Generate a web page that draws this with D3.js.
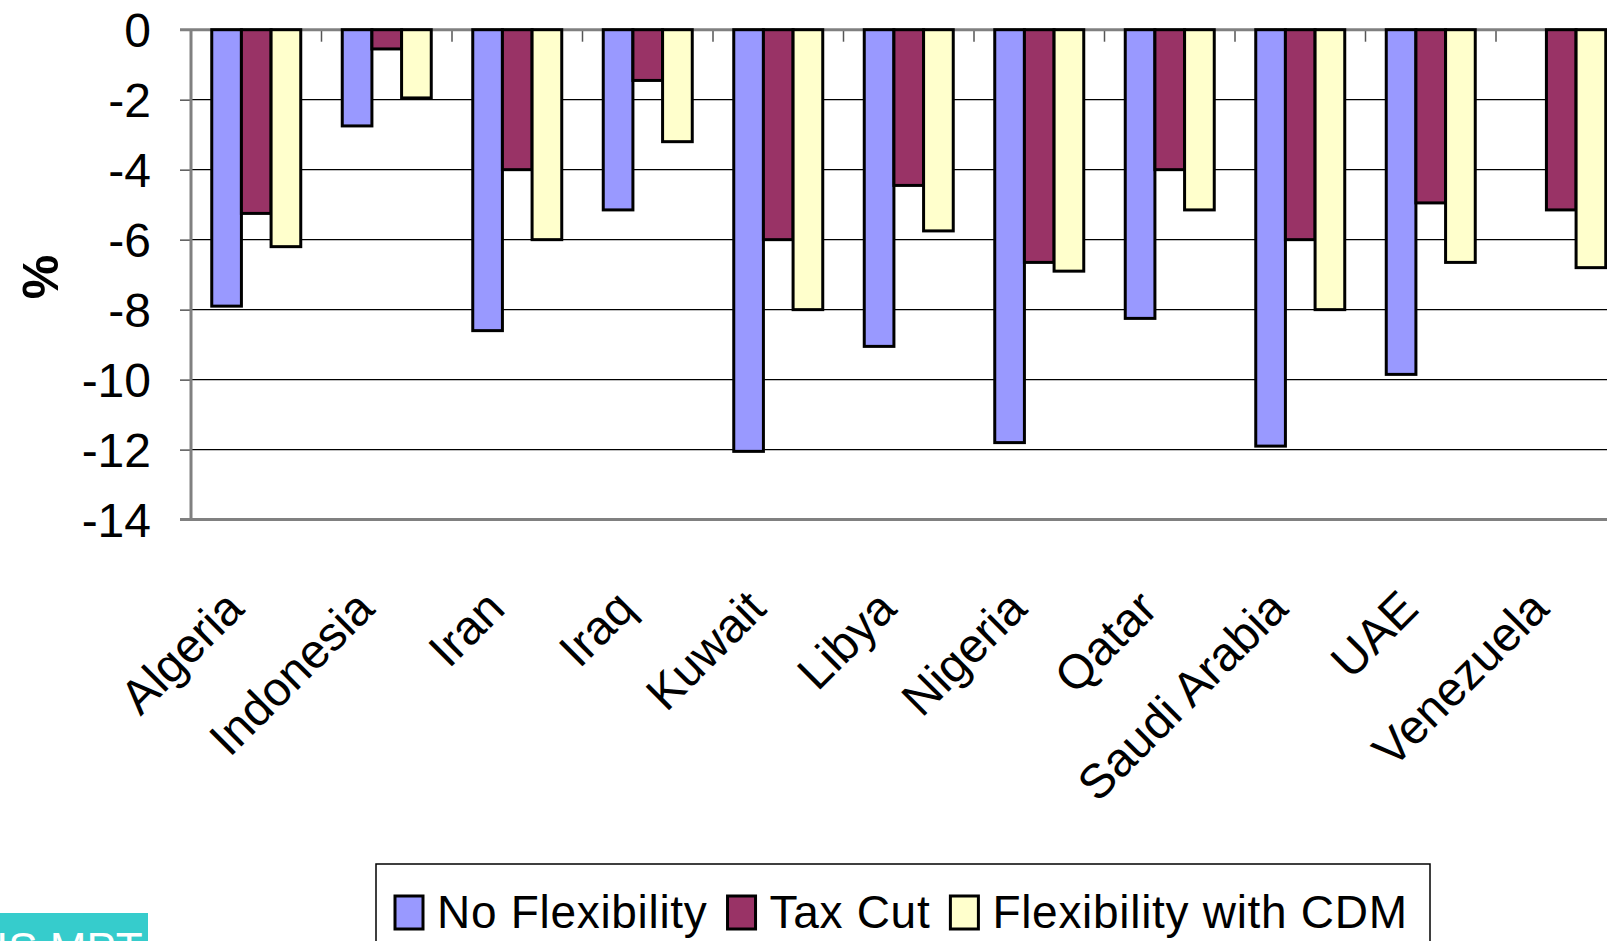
<!DOCTYPE html>
<html>
<head>
<meta charset="utf-8">
<script src="https://cdn.jsdelivr.net/npm/d3@7"></script>
<style>
  html, body { margin: 0; padding: 0; background: #fff; overflow: hidden; }
  svg { display: block; }
  text { font-family: "Liberation Sans", Arial, sans-serif; }
</style>
</head>
<body>
<svg id="chart" width="1607" height="941"></svg>
<script>
// ---- data ----
const categories = ["Algeria", "Indonesia", "Iran", "Iraq", "Kuwait", "Libya", "Nigeria", "Qatar", "Saudi Arabia", "UAE", "Venezuela"];
const seriesNames = ["No Flexibility", "Tax Cut", "Flexibility with CDM"];
const noFlexibility = [-7.9, -2.75, -8.6, -5.15, -12.05, -9.05, -11.8, -8.25, -11.9, -9.85, null];
const taxCut = [-5.25, -0.55, -4.0, -1.45, -6.0, -4.45, -6.65, -4.0, -6.0, -4.95, -5.15];
const flexibilityWithCDM = [-6.2, -1.95, -6.0, -3.2, -8.0, -5.75, -6.9, -5.15, -8.0, -6.65, -6.8];
const yTicks = [0, -2, -4, -6, -8, -10, -12, -14];
const yTitle = "%";
const badgeText = "IS MPT";

const seriesValues = [noFlexibility, taxCut, flexibilityWithCDM];
const colors = ["#9999FF", "#993366", "#FFFFCC"];

// ---- layout ----
const svg = d3.select("#chart");
const plotLeft = 191, catWidth = 130.5;
const plotTop = 29.7, plotBottom = 519.6;

const x0 = d3.scaleBand().domain(categories)
  .range([plotLeft, plotLeft + catWidth * categories.length]).padding(0);
const x1 = d3.scaleBand().domain(seriesNames)
  .range([20.75, catWidth - 20.75]).padding(0);
const y = d3.scaleLinear().domain([0, -14]).range([plotTop, plotBottom]);

svg.append("rect").attr("width", 1607).attr("height", 941).attr("fill", "#fff");

// gridlines
svg.append("g").selectAll("line")
  .data(yTicks.filter(d => d !== 0 && d !== -14))
  .join("line")
  .attr("x1", plotLeft).attr("x2", 1607)
  .attr("y1", d => y(d)).attr("y2", d => y(d))
  .attr("stroke", "#000").attr("stroke-width", 1.2);

// y axis (ticks + labels)
const yAxis = d3.axisLeft(y).tickValues(yTicks).tickSize(11).tickPadding(29)
  .tickFormat(d => d === 0 ? "0" : "-" + Math.abs(d));
const yg = svg.append("g").attr("transform", `translate(${plotLeft},0)`).call(yAxis);
yg.select(".domain").remove();
yg.selectAll(".tick line").attr("stroke", "#555").attr("stroke-width", 1.5);
yg.selectAll(".tick text")
  .attr("font-size", 48).attr("fill", "#000")
  .attr("font-family", "Liberation Sans, Arial, sans-serif")
  .attr("dy", "0.36em");

// bottom axis line
svg.append("line").attr("x1", plotLeft - 11).attr("x2", 1607)
  .attr("y1", plotBottom).attr("y2", plotBottom)
  .attr("stroke", "#808080").attr("stroke-width", 3);

// category tick marks at the zero line, pointing down
const catBoundaries = categories.map(c => x0(c) + catWidth);
svg.append("g").selectAll("line").data(catBoundaries).join("line")
  .attr("x1", d => d).attr("x2", d => d)
  .attr("y1", plotTop).attr("y2", plotTop + 12)
  .attr("stroke", "#555").attr("stroke-width", 1.5);
svg.append("line").attr("x1", plotLeft - 11).attr("x2", 1607)
  .attr("y1", plotTop).attr("y2", plotTop)
  .attr("stroke", "#808080").attr("stroke-width", 3);

// y axis line
svg.append("line").attr("x1", plotLeft).attr("x2", plotLeft)
  .attr("y1", plotTop).attr("y2", plotBottom)
  .attr("stroke", "#808080").attr("stroke-width", 3);

// bars
const barData = [];
categories.forEach((c, i) => {
  seriesNames.forEach((s, j) => {
    const v = seriesValues[j][i];
    if (v !== null && v !== undefined) barData.push({ c, s, v, j });
  });
});
svg.append("g").selectAll("rect").data(barData).join("rect")
  .attr("x", d => x0(d.c) + x1(d.s))
  .attr("y", y(0))
  .attr("width", x1.bandwidth())
  .attr("height", d => y(d.v) - y(0))
  .attr("fill", d => colors[d.j])
  .attr("stroke", "#000").attr("stroke-width", 3);

// category labels, rotated
svg.append("g").selectAll("text").data(categories).join("text")
  .attr("transform", d => `translate(${x0(d) + catWidth / 2 - 10},611) rotate(-45)`)
  .attr("text-anchor", "end")
  .attr("font-size", 48).attr("fill", "#000")
  .text(d => d);

// y title
svg.append("text")
  .attr("transform", `translate(58,277) rotate(-90)`)
  .attr("text-anchor", "middle")
  .attr("font-size", 50).attr("font-weight", "bold")
  .text(yTitle);

// legend
const legend = svg.append("g");
legend.append("rect").attr("x", 376).attr("y", 864).attr("width", 1054).attr("height", 120)
  .attr("fill", "#fff").attr("stroke", "#000").attr("stroke-width", 1.5);
let lx = 395;
seriesNames.forEach((s, j) => {
  legend.append("rect").attr("x", lx).attr("y", 896).attr("width", 28).attr("height", 33)
    .attr("fill", colors[j]).attr("stroke", "#000").attr("stroke-width", 3);
  const t = legend.append("text").attr("x", lx + 42).attr("y", 928)
    .attr("font-size", 46).attr("letter-spacing", 0.7).attr("fill", "#000").text(s);
  lx = lx + 42 + t.node().getComputedTextLength() + 20;
});

// teal badge at bottom-left (cut off by the page edge, as in the source)
svg.append("rect").attr("x", 0).attr("y", 913).attr("width", 148).attr("height", 40)
  .attr("fill", "#36CCCC");
svg.append("text").attr("x", -4).attr("y", 964)
  .attr("font-family", "Liberation Serif, 'DejaVu Serif', serif")
  .attr("font-size", 44).attr("fill", "#fff").text(badgeText);
</script>
</body>
</html>
